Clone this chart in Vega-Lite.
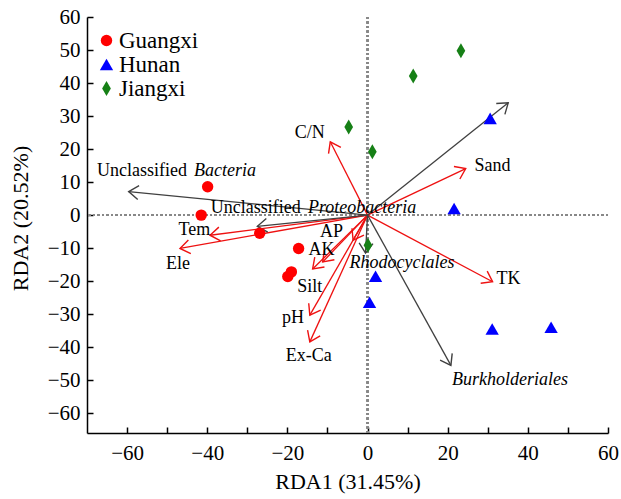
{
  "$schema": "https://vega.github.io/schema/vega-lite/v6.json",
  "width": 521,
  "height": 416,
  "autosize": {"type": "none"},
  "padding": {"left": 87, "top": 17, "right": 13, "bottom": 66},
  "background": "white",
  "config": {
    "view": {"stroke": null},
    "font": "Liberation Serif",
    "axis": {
      "grid": false, "domainColor": "#000", "domainWidth": 1.5,
      "tickColor": "#000", "tickWidth": 1.5, "tickSize": -6,
      "labelFont": "Liberation Serif", "labelFontSize": 21, "labelColor": "#000",
      "labelFlush": false, "labelOverlap": false,
      "titleFont": "Liberation Serif", "titleFontSize": 22, "titleFontWeight": "normal",
      "titleColor": "#000", "titleBaseline": "alphabetic"
    }
  },
  "datasets": {
    "pts": [
      {"region": "Guangxi", "rda1": -39.9, "rda2": 8.6},
      {"region": "Guangxi", "rda1": -41.5, "rda2": 0.0},
      {"region": "Guangxi", "rda1": -26.9, "rda2": -5.5},
      {"region": "Guangxi", "rda1": -17.2, "rda2": -10.1},
      {"region": "Guangxi", "rda1": -19.0, "rda2": -17.2},
      {"region": "Guangxi", "rda1": -19.9, "rda2": -18.6},
      {"region": "Hunan", "rda1": 30.6, "rda2": 29.3},
      {"region": "Hunan", "rda1": 21.6, "rda2": 2.0},
      {"region": "Hunan", "rda1": 2.0, "rda2": -18.5},
      {"region": "Hunan", "rda1": 0.5, "rda2": -26.4},
      {"region": "Hunan", "rda1": 31.1, "rda2": -34.5},
      {"region": "Hunan", "rda1": 45.8, "rda2": -34.0},
      {"region": "Jiangxi", "rda1": 23.3, "rda2": 49.8},
      {"region": "Jiangxi", "rda1": 11.4, "rda2": 42.1},
      {"region": "Jiangxi", "rda1": -4.7, "rda2": 26.7},
      {"region": "Jiangxi", "rda1": 1.2, "rda2": 19.2},
      {"region": "Jiangxi", "rda1": 0.1, "rda2": -9.1}
    ],
    "arrows": [
      {"name": "C/N", "kind": "env", "rda1": -9.3, "rda2": 22.2},
      {"name": "Sand", "kind": "env", "rda1": 24.5, "rda2": 14.1},
      {"name": "TK", "kind": "env", "rda1": 31.2, "rda2": -20.2},
      {"name": "Tem", "kind": "env", "rda1": -39.3, "rda2": -6.1},
      {"name": "Ele", "kind": "env", "rda1": -46.8, "rda2": -10.1},
      {"name": "AP", "kind": "env", "rda1": -3.6, "rda2": -7.6},
      {"name": "AK", "kind": "env", "rda1": -11.2, "rda2": -14.2},
      {"name": "Silt", "kind": "env", "rda1": -13.7, "rda2": -16.3},
      {"name": "pH", "kind": "env", "rda1": -14.4, "rda2": -30.3},
      {"name": "Ex-Ca", "kind": "env", "rda1": -14.4, "rda2": -38.4},
      {"name": "Unclassified Bacteria", "kind": "taxa", "rda1": -59.6, "rda2": 7.1},
      {"name": "Unclassified Proteobacteria", "kind": "taxa", "rda1": -27.5, "rda2": -3.4},
      {"name": "Upper", "kind": "taxa", "rda1": 35.1, "rda2": 34.0},
      {"name": "Rhodocyclales", "kind": "taxa", "rda1": -0.5, "rda2": -11.5},
      {"name": "Burkholderiales", "kind": "taxa", "rda1": 20.8, "rda2": -45.5}
    ],
    "envLabels": [
      {"text": "C/N", "rda1": -14.4, "rda2": 24.8},
      {"text": "Sand", "rda1": 31.2, "rda2": 14.9},
      {"text": "TK", "rda1": 35.2, "rda2": -19.5},
      {"text": "Tem", "rda1": -43.2, "rda2": -4.5},
      {"text": "Ele", "rda1": -47.3, "rda2": -14.9},
      {"text": "AP", "rda1": -9.0, "rda2": -5.2},
      {"text": "AK", "rda1": -11.5, "rda2": -10.6},
      {"text": "Silt", "rda1": -14.4, "rda2": -21.7},
      {"text": "pH", "rda1": -18.6, "rda2": -31.3},
      {"text": "Ex-Ca", "rda1": -14.7, "rda2": -42.7}
    ],
    "plainLabels": [
      {"text": "Unclassified", "rda1": -67.5, "rda2": 13.3},
      {"text": "Unclassified", "rda1": -39.1, "rda2": 2.0}
    ],
    "italicLabels": [
      {"text": "Bacteria", "rda1": -43.3, "rda2": 13.3},
      {"text": "Proteobacteria", "rda1": -14.85, "rda2": 2.0},
      {"text": "Rhodocyclales", "rda1": -4.5, "rda2": -14.5},
      {"text": "Burkholderiales", "rda1": 21.1, "rda2": -49.8}
    ]
  },
  "layer": [
    {
      "data": {"name": "pts"},
      "mark": {"type": "rule", "color": "#888888", "strokeWidth": 1.6, "strokeDash": [2, 2.5]},
      "encoding": {
        "y": {"datum": 0, "type": "quantitative", "title": "RDA2 (20.52%)", "scale": {"domain": [-66, 60], "nice": false, "zero": false},
          "axis": {"values": [-60, -50, -40, -30, -20, -10, 0, 10, 20, 30, 40, 50, 60], "labelPadding": 13, "titleAlign": "center", "titleX": -60, "titleY": 201, "titleAngle": -90}}
      }
    },
    {
      "data": {"name": "pts"},
      "mark": {"type": "rule", "color": "#888888", "strokeWidth": 1.6, "strokeDash": [2, 2.5]},
      "encoding": {
        "x": {"datum": 0, "type": "quantitative", "title": "RDA1 (31.45%)", "scale": {"domain": [-70, 60], "nice": false, "zero": false},
          "axis": {"values": [-60, -50, -40, -30, -20, -10, 0, 10, 20, 30, 40, 50, 60], "labelExpr": "datum.value % 20 === 0 ? datum.label : ''", "labelPadding": 15, "titleY": 55}}
      }
    },
    {
      "data": {"name": "arrows"},
      "mark": {"type": "rule", "strokeWidth": 1.3},
      "encoding": {
        "x": {"field": "rda1", "type": "quantitative", "title": "RDA1 (31.45%)", "scale": {"domain": [-70, 60], "nice": false, "zero": false},
          "axis": {"values": [-60, -50, -40, -30, -20, -10, 0, 10, 20, 30, 40, 50, 60], "labelExpr": "datum.value % 20 === 0 ? datum.label : ''", "labelPadding": 15, "titleY": 55}},
        "y": {"field": "rda2", "type": "quantitative", "title": "RDA2 (20.52%)", "scale": {"domain": [-66, 60], "nice": false, "zero": false},
          "axis": {"values": [-60, -50, -40, -30, -20, -10, 0, 10, 20, 30, 40, 50, 60], "labelPadding": 13, "titleAlign": "center", "titleX": -60, "titleY": 201, "titleAngle": -90}},
        "x2": {"datum": 0},
        "y2": {"datum": 0},
        "stroke": {"field": "kind", "type": "nominal", "scale": {"domain": ["env", "taxa"], "range": ["#ee1111", "#404040"]}, "legend": null}
      }
    },
    {
      "data": {"name": "arrows"},
      "transform": [{"calculate": "atan2(datum.rda1 * 4.008, datum.rda2 * 3.302) * 180 / PI", "as": "ang"}],
      "mark": {"type": "point", "shape": "M-0.75,1.06L0,0L0.75,1.06", "filled": false, "size": 340, "strokeWidth": 1.4, "opacity": 1},
      "encoding": {
        "x": {"field": "rda1", "type": "quantitative", "title": "RDA1 (31.45%)", "scale": {"domain": [-70, 60], "nice": false, "zero": false},
          "axis": {"values": [-60, -50, -40, -30, -20, -10, 0, 10, 20, 30, 40, 50, 60], "labelExpr": "datum.value % 20 === 0 ? datum.label : ''", "labelPadding": 15, "titleY": 55}},
        "y": {"field": "rda2", "type": "quantitative", "title": "RDA2 (20.52%)", "scale": {"domain": [-66, 60], "nice": false, "zero": false},
          "axis": {"values": [-60, -50, -40, -30, -20, -10, 0, 10, 20, 30, 40, 50, 60], "labelPadding": 13, "titleAlign": "center", "titleX": -60, "titleY": 201, "titleAngle": -90}},
        "angle": {"field": "ang", "type": "quantitative", "scale": null},
        "stroke": {"field": "kind", "type": "nominal", "scale": {"domain": ["env", "taxa"], "range": ["#ee1111", "#404040"]}, "legend": null}
      }
    },
    {
      "data": {"name": "pts"},
      "mark": {"type": "point", "filled": true, "opacity": 1, "strokeWidth": 0},
      "encoding": {
        "x": {"field": "rda1", "type": "quantitative", "title": "RDA1 (31.45%)", "scale": {"domain": [-70, 60], "nice": false, "zero": false},
          "axis": {"values": [-60, -50, -40, -30, -20, -10, 0, 10, 20, 30, 40, 50, 60], "labelExpr": "datum.value % 20 === 0 ? datum.label : ''", "labelPadding": 15, "titleY": 55}},
        "y": {"field": "rda2", "type": "quantitative", "title": "RDA2 (20.52%)", "scale": {"domain": [-66, 60], "nice": false, "zero": false},
          "axis": {"values": [-60, -50, -40, -30, -20, -10, 0, 10, 20, 30, 40, 50, 60], "labelPadding": 13, "titleAlign": "center", "titleX": -60, "titleY": 201, "titleAngle": -90}},
        "color": {
          "field": "region", "type": "nominal",
          "scale": {"domain": ["Guangxi", "Hunan", "Jiangxi"], "range": ["#ff0000", "#0000ff", "#168016"]},
          "legend": {
            "title": null, "orient": "none", "legendX": 8, "legendY": 12, "padding": 0,
            "labelFont": "Liberation Serif", "labelFontSize": 23, "labelColor": "#000",
            "symbolSize": 300, "symbolStrokeWidth": 0, "symbolOpacity": 1, "labelOffset": 1, "rowPadding": -1
          }
        },
        "shape": {
          "field": "region", "type": "nominal",
          "scale": {"domain": ["Guangxi", "Hunan", "Jiangxi"], "range": ["circle", "triangle-up", "M0,-1L0.58,0L0,1L-0.58,0Z"]},
          "legend": {
            "title": null, "orient": "none", "legendX": 8, "legendY": 12, "padding": 0,
            "labelFont": "Liberation Serif", "labelFontSize": 23, "labelColor": "#000",
            "symbolSize": 300, "symbolStrokeWidth": 0, "symbolOpacity": 1, "labelOffset": 1, "rowPadding": -1
          }
        },
        "size": {
          "field": "region", "type": "nominal",
          "scale": {"domain": ["Guangxi", "Hunan", "Jiangxi"], "range": [130, 225, 324]},
          "legend": null
        }
      }
    },
    {
      "data": {"name": "envLabels"},
      "mark": {"type": "text", "font": "Liberation Serif", "fontSize": 18, "color": "#000", "align": "center", "baseline": "middle"},
      "encoding": {
        "x": {"field": "rda1", "type": "quantitative", "title": "RDA1 (31.45%)", "scale": {"domain": [-70, 60], "nice": false, "zero": false},
          "axis": {"values": [-60, -50, -40, -30, -20, -10, 0, 10, 20, 30, 40, 50, 60], "labelExpr": "datum.value % 20 === 0 ? datum.label : ''", "labelPadding": 15, "titleY": 55}},
        "y": {"field": "rda2", "type": "quantitative", "title": "RDA2 (20.52%)", "scale": {"domain": [-66, 60], "nice": false, "zero": false},
          "axis": {"values": [-60, -50, -40, -30, -20, -10, 0, 10, 20, 30, 40, 50, 60], "labelPadding": 13, "titleAlign": "center", "titleX": -60, "titleY": 201, "titleAngle": -90}},
        "text": {"field": "text"}
      }
    },
    {
      "data": {"name": "plainLabels"},
      "mark": {"type": "text", "font": "Liberation Serif", "fontSize": 18, "color": "#000", "align": "left", "baseline": "middle"},
      "encoding": {
        "x": {"field": "rda1", "type": "quantitative", "title": "RDA1 (31.45%)", "scale": {"domain": [-70, 60], "nice": false, "zero": false},
          "axis": {"values": [-60, -50, -40, -30, -20, -10, 0, 10, 20, 30, 40, 50, 60], "labelExpr": "datum.value % 20 === 0 ? datum.label : ''", "labelPadding": 15, "titleY": 55}},
        "y": {"field": "rda2", "type": "quantitative", "title": "RDA2 (20.52%)", "scale": {"domain": [-66, 60], "nice": false, "zero": false},
          "axis": {"values": [-60, -50, -40, -30, -20, -10, 0, 10, 20, 30, 40, 50, 60], "labelPadding": 13, "titleAlign": "center", "titleX": -60, "titleY": 201, "titleAngle": -90}},
        "text": {"field": "text"}
      }
    },
    {
      "data": {"name": "italicLabels"},
      "mark": {"type": "text", "font": "Liberation Serif", "fontSize": 18, "fontStyle": "italic", "color": "#000", "align": "left", "baseline": "middle"},
      "encoding": {
        "x": {"field": "rda1", "type": "quantitative", "title": "RDA1 (31.45%)", "scale": {"domain": [-70, 60], "nice": false, "zero": false},
          "axis": {"values": [-60, -50, -40, -30, -20, -10, 0, 10, 20, 30, 40, 50, 60], "labelExpr": "datum.value % 20 === 0 ? datum.label : ''", "labelPadding": 15, "titleY": 55}},
        "y": {"field": "rda2", "type": "quantitative", "title": "RDA2 (20.52%)", "scale": {"domain": [-66, 60], "nice": false, "zero": false},
          "axis": {"values": [-60, -50, -40, -30, -20, -10, 0, 10, 20, 30, 40, 50, 60], "labelPadding": 13, "titleAlign": "center", "titleX": -60, "titleY": 201, "titleAngle": -90}},
        "text": {"field": "text"}
      }
    }
  ]
}
